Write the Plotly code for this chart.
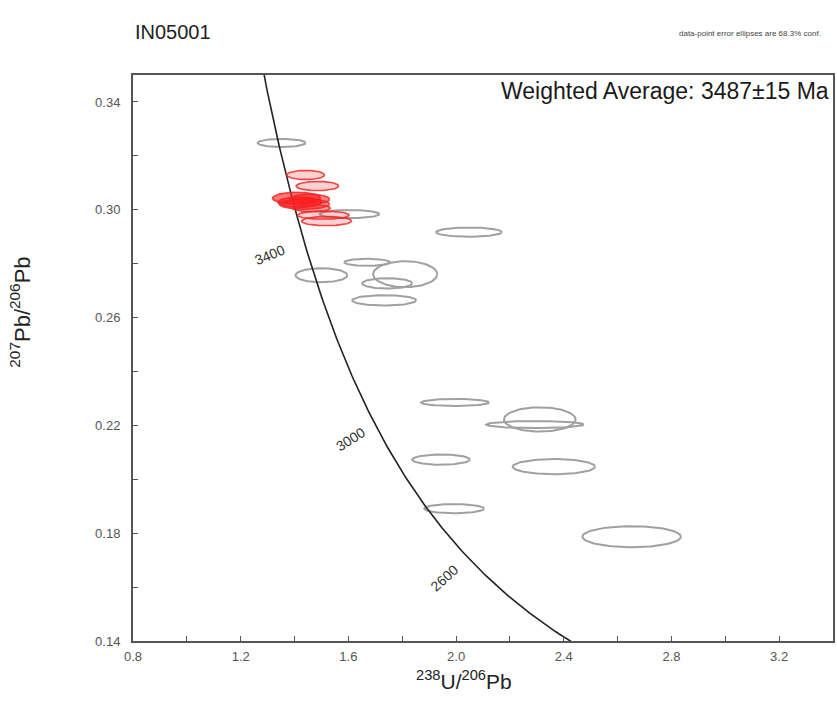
import numpy as np
import plotly.graph_objects as go

# ---- data ----
# grey (excluded) ellipses: centre x, centre y, semi-axis x, semi-axis y
grey_x  = [1.352, 1.604, 2.048, 1.500, 1.670, 1.811, 1.744, 1.733, 1.996, 2.311, 2.293, 1.944, 2.363, 1.993, 2.652]
grey_y  = [0.3248, 0.2984, 0.2917, 0.2757, 0.2805, 0.2761, 0.2727, 0.2664, 0.2285, 0.2222, 0.2203, 0.2073, 0.2047, 0.1891, 0.1787]
grey_rx = [0.089, 0.111, 0.122, 0.096, 0.085, 0.119, 0.093, 0.119, 0.126, 0.133, 0.181, 0.107, 0.153, 0.111, 0.183]
grey_ry = [0.0015, 0.0015, 0.0017, 0.0026, 0.0013, 0.0048, 0.0019, 0.0019, 0.0013, 0.0045, 0.0013, 0.0019, 0.0028, 0.0017, 0.0039]

# red (used in weighted average) ellipses
red_x  = [1.441, 1.485, 1.407, 1.419, 1.437, 1.456, 1.463, 1.507, 1.519]
red_y  = [0.3129, 0.3088, 0.3043, 0.3028, 0.3021, 0.3039, 0.3006, 0.2980, 0.2958]
red_rx = [0.070, 0.079, 0.089, 0.081, 0.093, 0.074, 0.070, 0.096, 0.093]
red_ry = [0.0017, 0.0017, 0.0022, 0.0019, 0.0019, 0.0019, 0.0013, 0.0015, 0.0017]
red_alpha = [0.2, 0.2, 0.6, 0.6, 0.55, 0.55, 0.4, 0.2, 0.2]

# concordia (Tera-Wasserburg) ages in Ma and labelled ages
conc_ages = list(range(2000, 4001, 10))
label_ages = [3400, 3000, 2600]
label_shift = [(-36, -9), (-21, -21), (-15, -30)]
label_angle = [-22, -32, -42]

L238 = 1.55125e-10
L235 = 9.8485e-10
U_RATIO = 137.88

FONT = "Liberation Sans"


def tw(age_ma):
    t = np.asarray(age_ma, dtype=float) * 1e6
    e8 = np.exp(L238 * t) - 1
    e5 = np.exp(L235 * t) - 1
    return 1 / e8, e5 / e8 / U_RATIO


def ellipse(cx, cy, rx, ry, n=90):
    th = np.linspace(0, 2 * np.pi, n)
    return cx + rx * np.cos(th), cy + ry * np.sin(th)


fig = go.Figure()

for cx, cy, rx, ry in zip(grey_x, grey_y, grey_rx, grey_ry):
    ex, ey = ellipse(cx, cy, rx, ry)
    fig.add_trace(go.Scatter(x=ex, y=ey, mode="lines",
                             line=dict(color="#a0a0a0", width=2),
                             hoverinfo="skip", showlegend=False))

cxs, cys = tw(conc_ages)
fig.add_trace(go.Scatter(x=cxs, y=cys, mode="lines",
                         line=dict(color="#222222", width=1.6),
                         hoverinfo="skip", showlegend=False))

for cx, cy, rx, ry, a in zip(red_x, red_y, red_rx, red_ry, red_alpha):
    ex, ey = ellipse(cx, cy, rx, ry)
    fig.add_trace(go.Scatter(x=ex, y=ey, mode="lines", fill="toself",
                             fillcolor=f"rgba(255,25,25,{a})",
                             line=dict(color="rgba(235,40,40,0.85)", width=1.6),
                             hoverinfo="skip", showlegend=False))

lx, ly = tw(label_ages)
for age, x, y, (dx, dy), ang in zip(label_ages, lx, ly, label_shift, label_angle):
    fig.add_annotation(x=x, y=y, text=str(age), showarrow=False,
                       xshift=dx, yshift=dy, textangle=ang,
                       font=dict(size=14, color="#333333", family=FONT))

fig.add_annotation(xref="paper", yref="paper", x=0.0, y=1.0, xanchor="left",
                   yanchor="bottom", yshift=30, text="IN05001", showarrow=False,
                   font=dict(size=20, color="#222222", family=FONT))
fig.add_annotation(xref="paper", yref="paper", x=0.985, y=1.0, xanchor="right",
                   yanchor="bottom", yshift=35, text="data-point error ellipses are 68.3% conf.",
                   showarrow=False,
                   font=dict(size=8, color="#444444", family=FONT))
fig.add_annotation(xref="paper", yref="paper", x=0.997, y=0.998, xanchor="right",
                   yanchor="top", text="Weighted Average: 3487±15 Ma", showarrow=False,
                   font=dict(size=23, color="#1a1a1a", family=FONT))

# axis titles as annotations (positioned like the reference)
fig.add_annotation(xref="paper", yref="paper", x=0.473, y=0.0, yshift=-24,
                   xanchor="center", yanchor="top",
                   text="<sup>238</sup>U/<sup>206</sup>Pb", showarrow=False,
                   font=dict(size=21, color="#222222", family=FONT))
fig.add_annotation(xref="paper", yref="paper", x=0.0, xshift=-113, y=0.58,
                   xanchor="center", yanchor="middle", textangle=-90,
                   text="<sup>207</sup>Pb/<sup>206</sup>Pb", showarrow=False,
                   font=dict(size=22, color="#222222", family=FONT))

axis_common = dict(showline=True, linecolor="#555555", linewidth=2, mirror=True,
                   ticks="inside", ticklen=5, tickcolor="#555555", showgrid=False,
                   zeroline=False,
                   tickfont=dict(size=13, color="#555555", family=FONT))

fig.update_layout(
    width=837, height=705,
    margin=dict(l=133, r=2, t=75, b=64),
    plot_bgcolor="white", paper_bgcolor="white",
    xaxis=dict(range=[0.8, 3.4], tick0=0.8, dtick=0.4, tickformat=".1f",
               ticklabelstandoff=2,
               minor=dict(dtick=0.2, ticks="inside", ticklen=5, tickcolor="#555555"),
               **axis_common),
    yaxis=dict(range=[0.14, 0.35], tick0=0.14, dtick=0.04, tickformat=".2f",
               ticklabelstandoff=8,
               minor=dict(dtick=0.02, ticks="inside", ticklen=5, tickcolor="#555555"),
               **axis_common),
)

fig.write_html("out.html")
